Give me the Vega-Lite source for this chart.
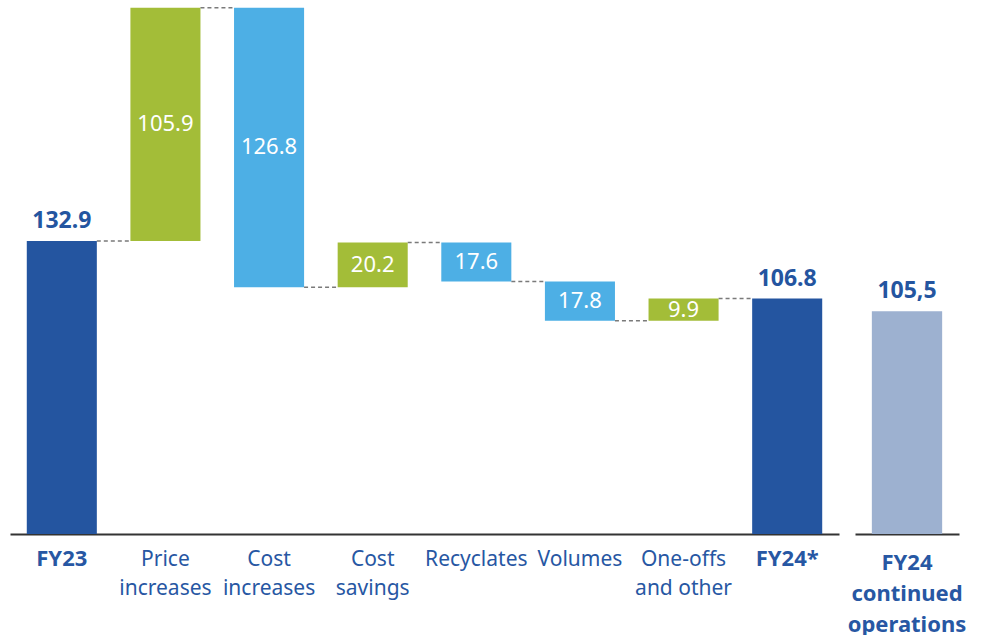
{
  "$schema": "https://vega.github.io/schema/vega-lite/v6.json",
  "padding": {"left": 10, "top": 5, "right": 0, "bottom": 0},
  "spacing": 16,
  "bounds": "flush",
  "config": {
    "view": {"stroke": null},
    "font": "Noto Sans",
    "axisX": {
      "domainColor": "#333333", "domainWidth": 2, "ticks": false, "grid": false,
      "title": null, "labelAngle": 0, "labelColor": "#2757A3", "labelFont": "Noto Sans",
      "labelPadding": 14, "labelLineHeight": 29, "labelBaseline": "top", "labelOverlap": false, "labelLimit": 300
    }
  },
  "datasets": {
    "steps": [
      {"cat": "FY23", "lo": 0, "hi": 132.9, "kind": "total", "label": "132.9", "next": "Price increases", "level": 132.9},
      {"cat": "Price increases", "lo": 132.9, "hi": 238.8, "kind": "up", "label": "105.9", "next": "Cost increases", "level": 238.8},
      {"cat": "Cost increases", "lo": 112.0, "hi": 238.8, "kind": "down", "label": "126.8", "next": "Cost savings", "level": 112.0},
      {"cat": "Cost savings", "lo": 112.0, "hi": 132.2, "kind": "up", "label": "20.2", "next": "Recyclates", "level": 132.2},
      {"cat": "Recyclates", "lo": 114.6, "hi": 132.2, "kind": "down", "label": "17.6", "next": "Volumes", "level": 114.6},
      {"cat": "Volumes", "lo": 96.8, "hi": 114.6, "kind": "down", "label": "17.8", "next": "One-offs and other", "level": 96.8},
      {"cat": "One-offs and other", "lo": 96.8, "hi": 106.8, "kind": "up", "label": "9.9", "next": "FY24*", "level": 106.8},
      {"cat": "FY24*", "lo": 0, "hi": 106.8, "kind": "total", "label": "106.8"}
    ],
    "cont": [
      {"cat": "FY24 continued operations", "lo": 0, "hi": 101.1, "kind": "cont", "label": "105,5"}
    ]
  },
  "hconcat": [
    {
      "width": 829,
      "height": 529,
      "data": {"name": "steps"},
      "encoding": {
        "x": {
          "field": "cat", "type": "nominal",
          "scale": {"domain": ["FY23", "Price increases", "Cost increases", "Cost savings", "Recyclates", "Volumes", "One-offs and other", "FY24*"], "paddingInner": 0.324, "paddingOuter": 0.162},
          "axis": {
            "labelExpr": "datum.value == 'One-offs and other' ? ['One-offs', 'and other'] : split(datum.value, ' ')",
            "labelFontWeight": {"condition": {"test": "datum.value == 'FY23' || datum.value == 'FY24*'", "value": "bold"}, "value": "normal"},
            "labelFontSize": {"condition": {"test": "datum.value == 'FY23' || datum.value == 'FY24*'", "value": 22}, "value": 21}
          }
        }
      },
      "layer": [
        {
          "transform": [{"filter": "isValid(datum.next)"}],
          "mark": {"type": "rule", "color": "#7a7a7a", "strokeWidth": 1.5, "strokeDash": [4, 3], "xOffset": 35, "x2Offset": -35},
          "encoding": {
            "x2": {"field": "next"},
            "y": {"field": "level", "type": "quantitative", "scale": {"domain": [0, 240], "nice": false}, "axis": null}
          }
        },
        {
          "mark": {"type": "bar"},
          "encoding": {
            "y": {"field": "lo", "type": "quantitative", "scale": {"domain": [0, 240], "nice": false}, "axis": null},
            "y2": {"field": "hi"},
            "color": {"field": "kind", "type": "nominal", "scale": {"domain": ["total", "up", "down", "cont"], "range": ["#2455A0", "#A3BD38", "#4DAFE5", "#9DB1D0"]}, "legend": null}
          }
        },
        {
          "transform": [{"filter": "datum.kind == 'total'"}],
          "mark": {"type": "text", "baseline": "bottom", "dy": -8, "fontSize": 23, "fontWeight": "bold", "color": "#2455A0"},
          "encoding": {
            "y": {"field": "hi", "type": "quantitative"},
            "text": {"field": "label"}
          }
        },
        {
          "transform": [{"filter": "datum.kind != 'total'"}, {"fold": ["lo", "hi"], "as": ["edge", "val"]}],
          "mark": {"type": "text", "baseline": "middle", "fontSize": 22, "color": "white"},
          "encoding": {
            "y": {"aggregate": "mean", "field": "val", "type": "quantitative"},
            "text": {"field": "label"}
          }
        }
      ]
    },
    {
      "width": 104,
      "height": 529,
      "data": {"name": "cont"},
      "encoding": {
        "x": {
          "field": "cat", "type": "nominal",
          "scale": {"paddingInner": 0.324, "paddingOuter": 0.162},
          "axis": {"labelExpr": "split(datum.value, ' ')", "labelFontWeight": "bold", "labelFontSize": 22, "labelLineHeight": 31, "labelPadding": 18}
        },
        "y": {"field": "hi", "type": "quantitative", "scale": {"domain": [0, 240], "nice": false}, "axis": null}
      },
      "layer": [
        {"mark": {"type": "bar", "color": "#9DB1D0"}},
        {"mark": {"type": "text", "baseline": "bottom", "dy": -8, "fontSize": 23, "fontWeight": "bold", "color": "#2455A0"}, "encoding": {"text": {"field": "label"}}}
      ]
    }
  ]
}
